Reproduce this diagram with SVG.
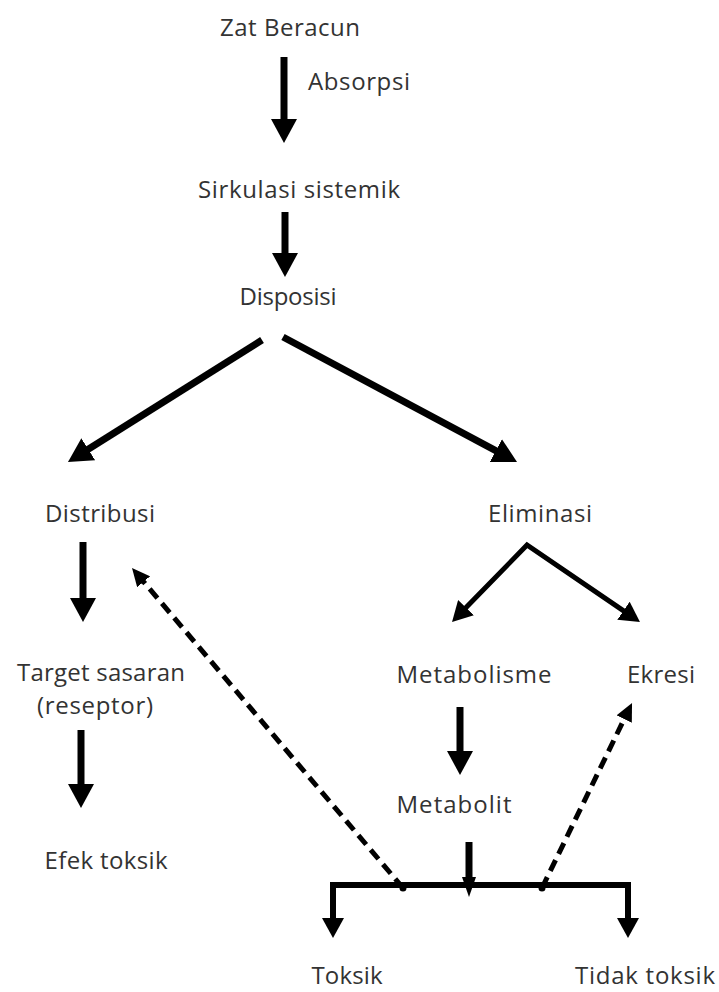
<svg xmlns="http://www.w3.org/2000/svg" width="719" height="992" viewBox="0 0 719 992">
<style>
  text { font-family: "Open Sans", "Noto Sans", "DejaVu Sans", sans-serif; font-size: 24px; fill: #333; text-anchor: middle; }
  .solid { fill: none; stroke: #000; stroke-width: 7; }
  .thin { fill: none; stroke: #000; stroke-width: 5; }
  .bar { fill: none; stroke: #000; stroke-width: 6; stroke-linejoin: miter; }
  .dash { fill: none; stroke: #000; stroke-width: 5; stroke-dasharray: 12 7; }
</style>
<defs>
  <marker id="ah" viewBox="0 0 24 26" markerWidth="24" markerHeight="26" refX="2" refY="13" orient="auto-start-reverse" markerUnits="userSpaceOnUse">
    <path d="M0,0 L24,13 L0,26 z" fill="#000"/>
  </marker>
  <marker id="ahs" viewBox="0 0 20 22" markerWidth="20" markerHeight="22" refX="2" refY="11" orient="auto-start-reverse" markerUnits="userSpaceOnUse">
    <path d="M0,0 L20,11 L0,22 z" fill="#000"/>
  </marker>
  <marker id="ahd" viewBox="0 0 18 17" markerWidth="18" markerHeight="17" refX="1" refY="8.5" orient="auto" markerUnits="userSpaceOnUse">
    <path d="M0,0 L18,8.5 L0,17 z" fill="#000"/>
  </marker>
  <marker id="aht" viewBox="0 0 20 14" markerWidth="20" markerHeight="14" refX="2" refY="7" orient="auto" markerUnits="userSpaceOnUse">
    <path d="M0,0 L20,7 L0,14 z" fill="#000"/>
  </marker>
</defs>

<g id="connectors">
  <line class="solid" x1="284" y1="57" x2="284" y2="121" marker-end="url(#ah)"/>
  <line class="solid" x1="285" y1="212" x2="285" y2="255" marker-end="url(#ah)"/>
  <line class="solid" x1="262" y1="340" x2="86.6" y2="450.3" marker-end="url(#ah)"/>
  <line class="solid" x1="283" y1="337" x2="497.6" y2="451.6" marker-end="url(#ah)"/>
  <line class="solid" x1="83" y1="542" x2="83" y2="600" marker-end="url(#ah)"/>
  <line class="solid" x1="81" y1="730" x2="81" y2="786" marker-end="url(#ah)"/>
  <line class="solid" x1="460" y1="707" x2="460" y2="753" marker-end="url(#ah)"/>
  <polyline class="thin" points="464.6,609.1 527,545 625.1,611.9" marker-start="url(#ahs)" marker-end="url(#ahs)"/>
  <line class="dash" x1="403" y1="888" x2="143" y2="581" marker-end="url(#ahd)"/>
  <line class="dash" x1="542" y1="888" x2="624.6" y2="718.2" marker-end="url(#ahd)"/>
  <path class="bar" d="M333,920 L333,885 L628,885 L628,920" marker-start="url(#ahs)" marker-end="url(#ahs)"/>
  <line class="solid" x1="469" y1="842" x2="469" y2="879" marker-end="url(#aht)"/>
  <circle cx="403" cy="888" r="3.5" fill="#000"/>
  <circle cx="542" cy="888" r="3.5" fill="#000"/>
</g>

<g id="node-zat-beracun"><text x="290" y="36" textLength="140" lengthAdjust="spacing">Zat Beracun</text></g>
<g id="label-absorpsi"><text x="359" y="90" textLength="102" lengthAdjust="spacing">Absorpsi</text></g>
<g id="node-sirkulasi"><text x="299" y="198" textLength="202" lengthAdjust="spacing">Sirkulasi sistemik</text></g>
<g id="node-disposisi"><text x="288" y="305" textLength="97" lengthAdjust="spacing">Disposisi</text></g>
<g id="node-distribusi"><text x="100" y="522" textLength="110" lengthAdjust="spacing">Distribusi</text></g>
<g id="node-eliminasi"><text x="540" y="522" textLength="104" lengthAdjust="spacing">Eliminasi</text></g>
<g id="node-target">
  <text x="101" y="681" textLength="168" lengthAdjust="spacing">Target sasaran</text>
  <text x="95" y="714" textLength="116" lengthAdjust="spacing">(reseptor)</text>
</g>
<g id="node-metabolisme"><text x="474" y="683" textLength="155" lengthAdjust="spacing">Metabolisme</text></g>
<g id="node-ekresi"><text x="661" y="683" textLength="68" lengthAdjust="spacing">Ekresi</text></g>
<g id="node-metabolit"><text x="454" y="813" textLength="115" lengthAdjust="spacing">Metabolit</text></g>
<g id="node-efek-toksik"><text x="106" y="869" textLength="123" lengthAdjust="spacing">Efek toksik</text></g>
<g id="node-toksik"><text x="347" y="984" textLength="71" lengthAdjust="spacing">Toksik</text></g>
<g id="node-tidak-toksik"><text x="645" y="984" textLength="140" lengthAdjust="spacing">Tidak toksik</text></g>
</svg>
